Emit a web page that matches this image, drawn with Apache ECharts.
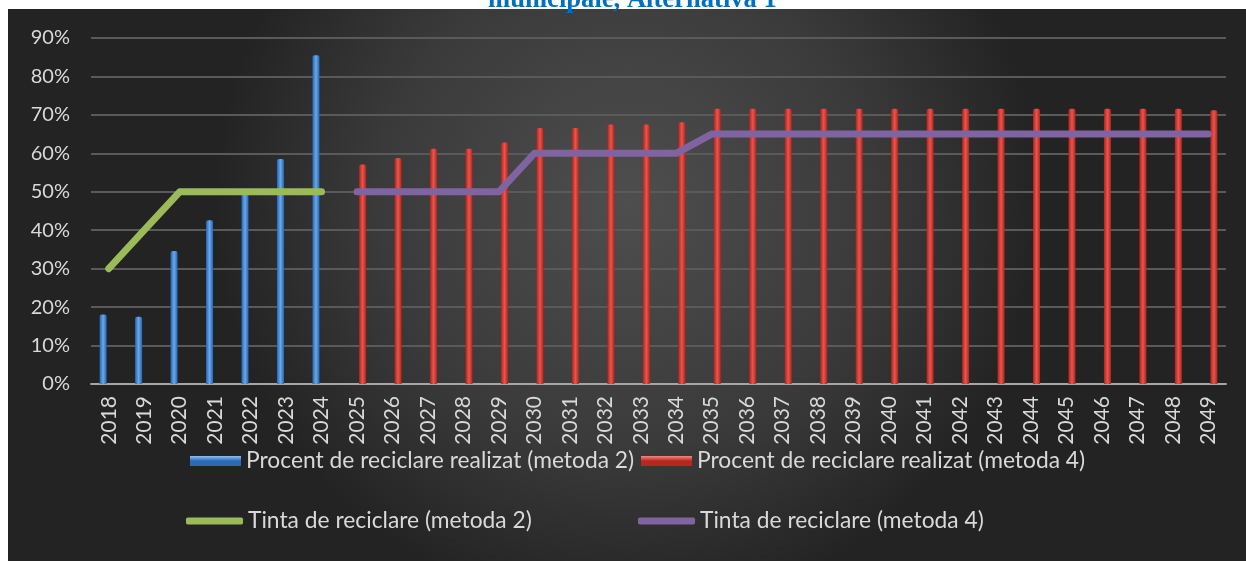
<!DOCTYPE html>
<html>
<head>
<meta charset="utf-8">
<script src="https://cdn.jsdelivr.net/npm/echarts@6/dist/echarts.min.js"></script>
<style>
  html, body { margin: 0; padding: 0; background: #ffffff; }
  #chart { width: 1246px; height: 561px; }
</style>
</head>
<body>
<div id="chart"></div>
<script>
// categorii (ani)
var years = ['2018', '2019', '2020', '2021', '2022', '2023', '2024', '2025', '2026', '2027',
    '2028', '2029', '2030', '2031', '2032', '2033', '2034', '2035', '2036', '2037',
    '2038', '2039', '2040', '2041', '2042', '2043', '2044', '2045', '2046', '2047',
    '2048', '2049'];

// procent de reciclare realizat (metoda 2), 2018-2024
var realizat_m2 = [18.1, 17.5, 34.6, 42.6, 49.5, 58.5, 85.5];
// procent de reciclare realizat (metoda 4), 2025-2049
var realizat_m4 = [57.1, 58.8, 61.2, 61.2, 62.8, 66.6, 66.6, 67.5, 67.5, 68.1,
    71.6, 71.6, 71.6, 71.6, 71.6, 71.6, 71.6, 71.6, 71.6, 71.6, 71.6, 71.6, 71.6, 71.6, 71.2];
// tinte
var tinta_m2 = [30, 40, 50, 50, 50, 50, 50];
var tinta_m4 = [50, 50, 50, 50, 50, 60, 60, 60, 60, 60,
    65, 65, 65, 65, 65, 65, 65, 65, 65, 65, 65, 65, 65, 65, 65];

var yTicks = { min: 0, max: 90, step: 10 };

var names = [
    'Procent de reciclare realizat (metoda 2)',
    'Procent de reciclare realizat (metoda 4)',
    'Tinta de reciclare (metoda 2)',
    'Tinta de reciclare (metoda 4)'
];

var n2 = realizat_m2.length;
var blueData = years.map(function (y, i) { return i < n2 ? realizat_m2[i] : '-'; });
var redData = years.map(function (y, i) { return i < n2 ? '-' : realizat_m4[i - n2]; });
var greenData = years.map(function (y, i) { return i < n2 ? tinta_m2[i] : '-'; });
var purpleData = years.map(function (y, i) { return i < n2 ? '-' : tinta_m4[i - n2]; });

function barGrad(dark, light) {
    return new echarts.graphic.LinearGradient(0, 0, 1, 0, [
        { offset: 0, color: dark },
        { offset: 0.5, color: light },
        { offset: 1, color: dark }
    ]);
}
function iconGrad(dark, light) {
    return new echarts.graphic.LinearGradient(0, 0, 0, 1, [
        { offset: 0, color: light },
        { offset: 0.5, color: dark },
        { offset: 1, color: dark }
    ]);
}

var font = 'Lato, "Open Sans", sans-serif';
var legendText = { color: '#d9d9d9', fontSize: 22.8, fontFamily: font, lineHeight: 24 };

function oneLegend(name, left, top, w, h, icon, color) {
    return {
        data: [{ name: name, icon: icon, itemStyle: { color: color } }],
        left: left, top: top, padding: 0,
        itemWidth: w, itemHeight: h,
        textStyle: legendText,
        selectedMode: false
    };
}

var chart = echarts.init(document.getElementById('chart'));

var option = {
    backgroundColor: 'transparent',
    animation: false,
    graphic: [
        {
            type: 'text', left: 488, top: -13, z: 1,
            style: {
                text: 'municipale, Alternativa 1',
                fill: '#0070c0',
                font: 'bold 26.6px "Liberation Serif", "Times New Roman", serif'
            }
        },
        {
            type: 'rect', z: -10, silent: true,
            shape: { x: 8, y: 9, width: 1238, height: 552 },
            style: {
                fill: new echarts.graphic.RadialGradient(0.5, 0.35, 0.75, [
                    { offset: 0, color: '#4e4e4e' },
                    { offset: 0.6, color: '#3a3a3a' },
                    { offset: 1, color: '#232323' }
                ])
            }
        }
    ],
    legend: [
        oneLegend(names[0], 190, 449, 51, 10, 'rect', iconGrad('#2a6ab8', '#8fc0ee')),
        oneLegend(names[1], 641, 449, 51, 10, 'rect', iconGrad('#b8261f', '#f08a84')),
        oneLegend(names[2], 186, 509, 57, 7, 'roundRect', '#9bbb59'),
        oneLegend(names[3], 638, 509, 57, 7, 'roundRect', '#8064a2')
    ],
    grid: { left: 91, right: 20, top: 38, bottom: 177, containLabel: false },
    xAxis: {
        type: 'category',
        data: years,
        axisLine: { lineStyle: { color: '#a6a6a6', width: 2 } },
        axisTick: { show: false },
        axisLabel: {
            rotate: 90, margin: 12, interval: 0,
            color: '#d9d9d9', fontSize: 21, fontFamily: font
        }
    },
    yAxis: {
        type: 'value',
        min: yTicks.min, max: yTicks.max, interval: yTicks.step,
        axisLine: { show: false },
        axisTick: { show: false },
        splitLine: { lineStyle: { color: '#5a5a5a', width: 2 } },
        axisLabel: {
            formatter: '{value}%', margin: 21,
            color: '#d9d9d9', fontSize: 20, fontFamily: font
        }
    },
    series: [
        {
            name: names[0], type: 'bar', data: blueData,
            barWidth: 7, barGap: '60%',
            itemStyle: { color: barGrad('#2566b4', '#6aa8ea'), borderRadius: [2, 2, 0, 0] }
        },
        {
            name: names[1], type: 'bar', data: redData,
            barWidth: 7,
            itemStyle: { color: barGrad('#b0231d', '#e8564e'), borderRadius: [2, 2, 0, 0] }
        },
        {
            name: names[2], type: 'line', data: greenData,
            symbol: 'none', z: 5,
            lineStyle: { color: '#9bbb59', width: 7, cap: 'round', join: 'round' },
            itemStyle: { color: '#9bbb59' }
        },
        {
            name: names[3], type: 'line', data: purpleData,
            symbol: 'none', z: 5,
            lineStyle: { color: '#8064a2', width: 7, cap: 'round', join: 'round' },
            itemStyle: { color: '#8064a2' }
        }
    ]
};

chart.setOption(option);
</script>
</body>
</html>
